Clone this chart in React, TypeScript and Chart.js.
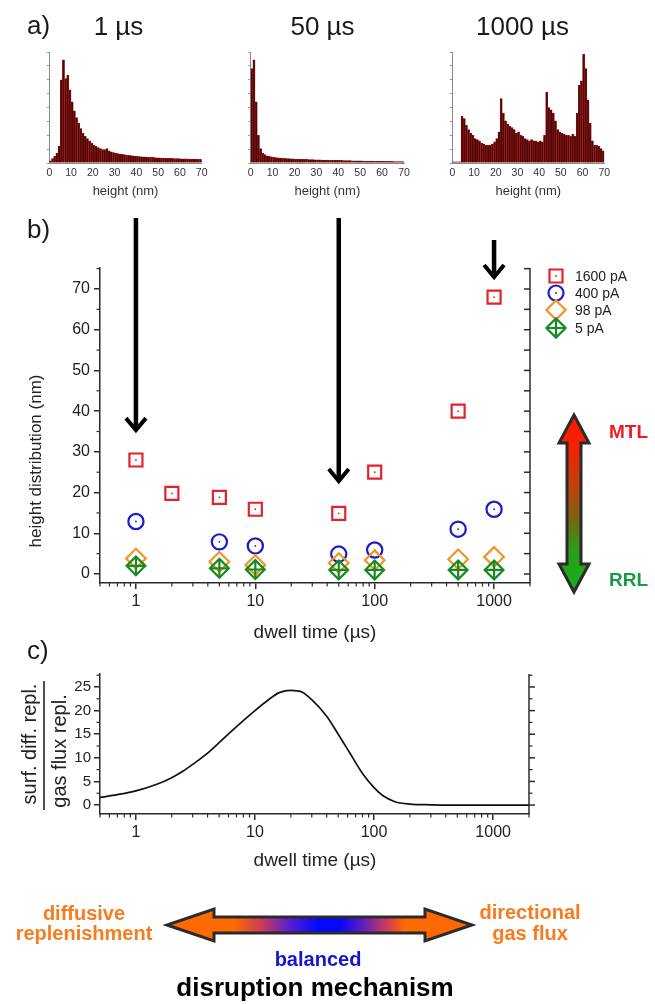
import React, { useEffect, useRef } from "react";
import { Chart, registerables } from "chart.js";

Chart.register(...registerables);

const FONT = 'Arial, "Liberation Sans", Helvetica, sans-serif';
Chart.defaults.font.family = FONT;
Chart.defaults.color = "#222";

// ---------------- data ----------------
const histTitles = ["1 µs", "50 µs", "1000 µs"];
const panelLabels = ["a)", "b)", "c)"];

// normalised counts per 1 nm bin (0-1, 1-2, ..., 69-70 nm)
const hist1us = [
  0.02, 0.04, 0.06, 0.09, 0.15, 0.75, 0.93, 0.76, 0.79, 0.66,
  0.55, 0.47, 0.41, 0.36, 0.31, 0.27, 0.24, 0.22, 0.2, 0.18,
  0.16, 0.15, 0.14, 0.13, 0.12, 0.12, 0.13, 0.11, 0.1, 0.095,
  0.09, 0.085, 0.08, 0.078, 0.075, 0.07, 0.068, 0.066, 0.064, 0.062,
  0.06, 0.058, 0.056, 0.055, 0.054, 0.052, 0.05, 0.05, 0.048, 0.047,
  0.046, 0.045, 0.044, 0.043, 0.042, 0.042, 0.041, 0.04, 0.04, 0.039,
  0.038, 0.038, 0.037, 0.037, 0.036, 0.036, 0.035, 0.035, 0.034, 0.034,
];
const hist50us = [
  0.85, 0.93, 0.55, 0.25, 0.13, 0.09, 0.075, 0.065, 0.06, 0.055,
  0.05, 0.048, 0.046, 0.044, 0.042, 0.041, 0.04, 0.039, 0.038, 0.037,
  0.036, 0.035, 0.034, 0.034, 0.033, 0.032, 0.031, 0.031, 0.03, 0.029,
  0.029, 0.028, 0.027, 0.027, 0.026, 0.026, 0.025, 0.025, 0.024, 0.024,
  0.023, 0.023, 0.022, 0.022, 0.021, 0.021, 0.02, 0.02, 0.02, 0.019,
  0.019, 0.018, 0.018, 0.018, 0.017, 0.017, 0.016, 0.016, 0.016, 0.015,
  0.015, 0.015, 0.014, 0.014, 0.014, 0.013, 0.013, 0.013, 0.012, 0.012,
];
const hist1000us = [
  0.01, 0.01, 0.01, 0.01, 0.42, 0.4, 0.34, 0.3, 0.27, 0.25,
  0.22, 0.21, 0.2, 0.18, 0.17, 0.16, 0.16, 0.16, 0.17, 0.19,
  0.22, 0.28, 0.58, 0.45, 0.38, 0.35, 0.33, 0.32, 0.3, 0.27,
  0.28, 0.25, 0.24, 0.22, 0.21, 0.2, 0.21, 0.2, 0.2, 0.19,
  0.2, 0.19, 0.25, 0.64, 0.5, 0.48, 0.45, 0.38, 0.3, 0.28,
  0.27, 0.26, 0.25, 0.25, 0.24, 0.26, 0.24, 0.45, 0.7, 0.74,
  0.98, 0.85, 0.57, 0.36, 0.2, 0.16, 0.16, 0.15, 0.13, 0.11,
];
const histSeries = [hist1us, hist50us, hist1000us];

const dwellTimesRed = [1, 2, 5, 10, 50, 100, 500, 1000];
const height1600pA = [28, 19.8, 18.8, 15.9, 14.9, 25, 40, 68];
const dwellTimes = [1, 5, 10, 50, 100, 500, 1000];
const height400pA = [12.9, 7.9, 6.9, 4.9, 5.9, 11, 15.9];
const height98pA = [3.8, 3.0, 2.2, 2.7, 3.4, 3.6, 4.2];
const height5pA = [2.0, 1.4, 1.1, 1.0, 1.0, 1.0, 1.0];
const seriesNames = ["1600 pA", "400 pA", "98 pA", "5 pA"];

const arrowDwell = [1, 50, 1000];
const arrowTipHeight = [34.6, 22.1, 72.2];

const ratioDwell = [0.5, 0.7, 1, 1.5, 2, 2.5, 3, 4, 5, 7, 10, 13, 16, 20, 25, 30, 40, 50, 63, 80, 100, 120, 150, 200, 300, 500, 1000, 2000];
const ratioValue = [1.6, 2.2, 3.0, 4.4, 5.8, 7.2, 8.6, 11.0, 13.2, 16.6, 20.0, 22.3, 23.8, 24.3, 23.9, 22.3, 18.8, 15.0, 10.9, 6.7, 3.7, 1.9, 0.7, 0.2, 0.05, 0, 0, 0];

const decadeTicks = [1, 10, 100, 1000];

// ---------------- styles ----------------
const AXIS = "#2b2b2b";
const RED = "#e3232b";
const BLUE = "#1c1cc4";
const ORANGE = "#f59324";
const GREEN = "#178a22";
const TXT_ORANGE = "#f77b1f";

const HIST_GEOM = [
  { left: 0, width: 220, areaL: 49.3, areaR: 201.7, titleX: 118.5 },
  { left: 220, width: 210, areaL: 30.7, areaR: 184, titleX: 102.5 },
  { left: 430, width: 225, areaL: 22.3, areaR: 174.3, titleX: 92.5 },
];

const pts = (xs: number[], ys: number[]) => xs.map((x, i) => ({ x, y: ys[i] }));

function txt(ctx: any, s: string, x: number, y: number, font: string, color: string, align: any = "center", base: any = "alphabetic", rot = 0) {
  ctx.save();
  ctx.translate(x, y);
  if (rot) ctx.rotate(rot);
  ctx.font = font;
  ctx.fillStyle = color;
  ctx.textAlign = align;
  ctx.textBaseline = base;
  ctx.fillText(s, 0, 0);
  ctx.restore();
}

function logMinor(ctx: any, s: any, y0: number, len: number) {
  for (let e = -1; e <= 3; e++) {
    for (let m = 2; m <= 9; m++) {
      const v = m * Math.pow(10, e);
      if (v < s.min * 0.999 || v > s.max * 1.001) continue;
      const x = s.getPixelForValue(v);
      ctx.beginPath();
      ctx.moveTo(x, y0);
      ctx.lineTo(x, y0 + len);
      ctx.stroke();
    }
  }
}

function linTicks(ctx: any, s: any, step: number, x0: number, len: number, skipEvery: number) {
  const start = Math.ceil(s.min / step) * step;
  for (let v = start; v <= s.max + 1e-9; v += step) {
    const k = Math.round(v / step);
    if (skipEvery && k % skipEvery === 0) continue;
    const y = s.getPixelForValue(v);
    ctx.beginPath();
    ctx.moveTo(x0, y);
    ctx.lineTo(x0 + len, y);
    ctx.stroke();
  }
}

function downArrow(ctx: any, x: number, yTop: number, yTip: number) {
  ctx.save();
  ctx.strokeStyle = "#000";
  ctx.lineWidth = 4.5;
  ctx.beginPath();
  ctx.moveTo(x, yTop);
  ctx.lineTo(x, yTip - 4);
  ctx.stroke();
  ctx.lineWidth = 4;
  ctx.lineJoin = "miter";
  ctx.beginPath();
  ctx.moveTo(x - 10, yTip - 15);
  ctx.lineTo(x, yTip - 3);
  ctx.lineTo(x + 10, yTip - 15);
  ctx.stroke();
  ctx.restore();
}

function dblArrowPath(ctx: any, c: number, a0: number, a1: number, headHalf: number, headLen: number, shaftHalf: number, vertical: boolean) {
  const P = (along: number, across: number) => (vertical ? [c + across, along] : [along, c + across]);
  const list = [
    P(a0, 0), P(a0 + headLen, headHalf), P(a0 + headLen, shaftHalf), P(a1 - headLen, shaftHalf), P(a1 - headLen, headHalf),
    P(a1, 0), P(a1 - headLen, -headHalf), P(a1 - headLen, -shaftHalf), P(a0 + headLen, -shaftHalf), P(a0 + headLen, -headHalf),
  ];
  ctx.beginPath();
  list.forEach((p, i) => (i ? ctx.lineTo(p[0], p[1]) : ctx.moveTo(p[0], p[1])));
  ctx.closePath();
}

function marker(ctx: any, kind: string, x: number, y: number, color: string) {
  ctx.save();
  ctx.strokeStyle = color;
  ctx.fillStyle = color;
  ctx.lineWidth = 2.2;
  ctx.beginPath();
  if (kind === "rect") ctx.rect(x - 6.5, y - 6.5, 13, 13);
  else if (kind === "circle") ctx.arc(x, y, 7.5, 0, Math.PI * 2);
  else {
    const r = 9.6;
    ctx.moveTo(x - r, y);
    ctx.lineTo(x, y - r);
    ctx.lineTo(x + r, y);
    ctx.lineTo(x, y + r);
    ctx.closePath();
    if (kind === "diamondCross") {
      ctx.moveTo(x - r, y);
      ctx.lineTo(x + r, y);
      ctx.moveTo(x, y - r);
      ctx.lineTo(x, y + r);
    }
  }
  ctx.stroke();
  if (kind === "rect" || kind === "circle") {
    ctx.beginPath();
    ctx.arc(x, y, 0.9, 0, Math.PI * 2);
    ctx.fill();
  }
  ctx.restore();
}

// ---------------- chart configs ----------------
function histConfig(i: number) {
  const g = HIST_GEOM[i];
  const values = histSeries[i];
  const centres = values.map((_, k) => k + 0.5);
  return {
    type: "bar",
    data: {
      datasets: [
        {
          data: pts(centres, values),
          backgroundColor: "#520606",
          borderColor: "#a82222",
          borderWidth: 0.5,
          barPercentage: 1,
          categoryPercentage: 1,
        },
      ],
    },
    options: {
      animation: false,
      responsive: false,
      devicePixelRatio: 1,
      layout: { padding: { left: g.areaL, right: g.width - g.areaR, top: 52, bottom: 0 } },
      plugins: { legend: { display: false }, tooltip: { enabled: false } },
      scales: {
        x: {
          type: "linear",
          min: 0,
          max: 70,
          offset: false,
          ticks: { stepSize: 10, padding: 4, font: { size: 10.5 }, color: "#333", autoSkip: false, maxRotation: 0 },
          grid: { display: false, drawTicks: false, offset: false },
          border: { display: true, color: "#8a8a8a", width: 1 },
          afterFit: (s: any) => { s.height = 37; },
        },
        y: {
          min: 0,
          max: 1,
          ticks: { display: false, stepSize: 0.125 },
          grid: { drawOnChartArea: false, drawTicks: true, tickLength: 2.5, color: "#999" },
          border: { display: true, color: "#8a8a8a", width: 1 },
          afterFit: (s: any) => { s.width = 0; },
        },
      },
    },
    plugins: [
      {
        id: "histText",
        afterDraw(chart: any) {
          const { ctx, chartArea: a } = chart;
          txt(ctx, histTitles[i], g.titleX, 35, `26px ${FONT}`, "#1a1a1a");
          txt(ctx, "height (nm)", (a.left + a.right) / 2, 195, `13px ${FONT}`, "#333");
          if (i === 0) txt(ctx, panelLabels[0], 27, 34, `26px ${FONT}`, "#1a1a1a", "left");
        },
      },
    ],
  };
}

function axisScale(extra: any) {
  return {
    grid: { drawOnChartArea: false, color: AXIS, lineWidth: 1.5, tickLength: 6 },
    border: { color: AXIS, width: 1.5 },
    ...extra,
  };
}

function panelBConfig() {
  const pt = (style: string, r: number, color: string, order: number, data: any, fill = false) => ({
    data,
    showLine: false,
    pointStyle: style,
    pointRadius: r,
    pointHoverRadius: r,
    pointBorderColor: color,
    pointBackgroundColor: fill ? color : "rgba(0,0,0,0)",
    pointBorderWidth: fill ? 0 : 2.2,
    order,
  });
  return {
    type: "scatter",
    data: {
      datasets: [
        pt("cross", 9.4, GREEN, 0, pts(dwellTimes, height5pA)),
        pt("rectRot", 9.4, GREEN, 1, pts(dwellTimes, height5pA)),
        pt("rectRot", 9.8, ORANGE, 2, pts(dwellTimes, height98pA)),
        pt("circle", 0.9, BLUE, 3, pts(dwellTimes, height400pA), true),
        pt("circle", 7.6, BLUE, 4, pts(dwellTimes, height400pA)),
        pt("circle", 0.9, RED, 5, pts(dwellTimesRed, height1600pA), true),
        pt("rect", 9.2, RED, 6, pts(dwellTimesRed, height1600pA)),
      ],
    },
    options: {
      animation: false,
      responsive: false,
      devicePixelRatio: 1,
      layout: { padding: { left: 40, right: 125, top: 78, bottom: 17 } },
      plugins: { legend: { display: false }, tooltip: { enabled: false } },
      scales: {
        x: axisScale({
          type: "logarithmic",
          min: 0.5,
          max: 2000,
          afterBuildTicks: (s: any) => { s.ticks = decadeTicks.map((v) => ({ value: v })); },
          ticks: { callback: (v: any) => String(v), font: { size: 16 }, color: "#222", padding: 3, autoSkip: false, maxRotation: 0 },
          afterFit: (s: any) => { s.height = 50; },
        }),
        y: axisScale({
          min: -2.21,
          max: 75.16,
          ticks: { stepSize: 10, includeBounds: false, font: { size: 16 }, color: "#222", padding: 4 },
          afterFit: (s: any) => { s.width = 60; },
        }),
      },
    },
    plugins: [
      {
        id: "panelB",
        afterDraw(chart: any) {
          const { ctx, chartArea: a, scales } = chart;
          const xs = scales.x;
          const ys = scales.y;
          ctx.save();
          ctx.strokeStyle = AXIS;
          ctx.lineWidth = 1.2;
          logMinor(ctx, xs, a.bottom, 3.5);
          linTicks(ctx, ys, 5, a.left, -3.5, 2);
          // right axis with inward ticks
          ctx.lineWidth = 1.5;
          ctx.beginPath();
          ctx.moveTo(a.right, a.top);
          ctx.lineTo(a.right, a.bottom);
          ctx.stroke();
          linTicks(ctx, ys, 5, a.right, -6, 0);
          ctx.restore();

          // arrows pointing to the histogram dwell times
          const tops = [28, 28, 50];
          arrowDwell.forEach((d, k) => {
            downArrow(ctx, xs.getPixelForValue(d), tops[k], ys.getPixelForValue(arrowTipHeight[k]));
          });

          // legend
          const kinds = ["rect", "circle", "diamond", "diamondCross"];
          const cols = [RED, BLUE, ORANGE, GREEN];
          const ly = [86, 103, 120, 138];
          seriesNames.forEach((n, k) => {
            marker(ctx, kinds[k], 556, ly[k], cols[k]);
            txt(ctx, n, 575, ly[k] + 1, `14px ${FONT}`, "#222", "left", "middle");
          });

          // MTL / RRL double arrow
          const top = 225;
          const bot = 402;
          const grad = ctx.createLinearGradient(0, top, 0, bot);
          grad.addColorStop(0, "#ff1a00");
          grad.addColorStop(0.18, "#f52205");
          grad.addColorStop(0.4, "#c0400a");
          grad.addColorStop(0.58, "#7a6212");
          grad.addColorStop(0.75, "#2f9a1c");
          grad.addColorStop(1, "#12b41a");
          ctx.save();
          dblArrowPath(ctx, 574, top, bot, 15, 28, 7, true);
          ctx.fillStyle = grad;
          ctx.fill();
          ctx.strokeStyle = "#2b2b2b";
          ctx.lineWidth = 3;
          ctx.lineJoin = "miter";
          ctx.stroke();
          ctx.restore();
          txt(ctx, "MTL", 609, 243, `bold 19px ${FONT}`, "#ec1c24", "left", "middle");
          txt(ctx, "RRL", 609, 391, `bold 19px ${FONT}`, "#1b9a44", "left", "middle");

          // labels
          txt(ctx, panelLabels[1], 27, 48, `26px ${FONT}`, "#1a1a1a", "left");
          txt(ctx, "height distribution (nm)", 36, 271, `17px ${FONT}`, "#222", "center", "middle", -Math.PI / 2);
          txt(ctx, "dwell time (µs)", 315, 448, `19px ${FONT}`, "#222");
        },
      },
    ],
  };
}

function panelCConfig() {
  return {
    type: "line",
    data: {
      datasets: [
        {
          data: pts(ratioDwell, ratioValue),
          borderColor: "#111",
          borderWidth: 1.7,
          pointRadius: 0,
          fill: false,
          cubicInterpolationMode: "monotone",
        },
      ],
    },
    options: {
      animation: false,
      responsive: false,
      devicePixelRatio: 1,
      layout: { padding: { left: 40, right: 126, top: 44, bottom: 140 } },
      plugins: { legend: { display: false }, tooltip: { enabled: false } },
      scales: {
        x: axisScale({
          type: "logarithmic",
          min: 0.5,
          max: 2000,
          afterBuildTicks: (s: any) => { s.ticks = decadeTicks.map((v) => ({ value: v })); },
          ticks: { callback: (v: any) => String(v), font: { size: 16 }, color: "#222", padding: 3, autoSkip: false, maxRotation: 0 },
          afterFit: (s: any) => { s.height = 50; },
        }),
        y: axisScale({
          min: -1.9,
          max: 27.75,
          ticks: { stepSize: 5, includeBounds: false, font: { size: 15 }, color: "#222", padding: 3 },
          afterFit: (s: any) => { s.width = 60; },
        }),
      },
    },
    plugins: [
      {
        id: "panelC",
        afterDraw(chart: any) {
          const { ctx, chartArea: a, scales } = chart;
          const xs = scales.x;
          const ys = scales.y;
          ctx.save();
          ctx.strokeStyle = AXIS;
          ctx.lineWidth = 1.2;
          logMinor(ctx, xs, a.bottom, 3.5);
          linTicks(ctx, ys, 2.5, a.left, -3.5, 2);
          ctx.lineWidth = 1.5;
          ctx.beginPath();
          ctx.moveTo(a.right, a.top);
          ctx.lineTo(a.right, a.bottom);
          ctx.stroke();
          linTicks(ctx, ys, 5, a.right, 6, 0);
          ctx.lineWidth = 1.2;
          linTicks(ctx, ys, 2.5, a.right, 3.5, 2);
          ctx.restore();

          // labels
          txt(ctx, panelLabels[2], 27, 29, `26px ${FONT}`, "#1a1a1a", "left");
          txt(ctx, "surf. diff. repl.", 30, 114, `20px ${FONT}`, "#222", "center", "middle", -Math.PI / 2);
          txt(ctx, "gas flux repl.", 60, 121, `20px ${FONT}`, "#222", "center", "middle", -Math.PI / 2);
          ctx.save();
          ctx.strokeStyle = "#222";
          ctx.lineWidth = 1.6;
          ctx.beginPath();
          ctx.moveTo(44, 51);
          ctx.lineTo(44, 180);
          ctx.stroke();
          ctx.restore();
          txt(ctx, "dwell time (µs)", 315, 236, `19px ${FONT}`, "#222");

          // disruption mechanism arrow
          const x0 = 167;
          const x1 = 472;
          const cy = 295;
          const grad = ctx.createLinearGradient(x0, 0, x1, 0);
          grad.addColorStop(0, "#ff6a00");
          grad.addColorStop(0.22, "#ff6a00");
          grad.addColorStop(0.31, "#cc3c55");
          grad.addColorStop(0.4, "#5a1ed0");
          grad.addColorStop(0.5, "#0008ff");
          grad.addColorStop(0.57, "#0a08f8");
          grad.addColorStop(0.65, "#6a22b8");
          grad.addColorStop(0.73, "#d8424a");
          grad.addColorStop(0.78, "#ff6a00");
          grad.addColorStop(1, "#ff6a00");
          ctx.save();
          dblArrowPath(ctx, cy, x0, x1, 16, 47, 8, false);
          ctx.fillStyle = grad;
          ctx.fill();
          ctx.strokeStyle = "#2b2b2b";
          ctx.lineWidth = 3;
          ctx.lineJoin = "miter";
          ctx.stroke();
          ctx.restore();

          const bf = `bold 20px ${FONT}`;
          txt(ctx, "diffusive", 84, 290, bf, TXT_ORANGE);
          txt(ctx, "replenishment", 84, 310, bf, TXT_ORANGE);
          txt(ctx, "directional", 530, 289, bf, TXT_ORANGE);
          txt(ctx, "gas flux", 530, 310, bf, TXT_ORANGE);
          txt(ctx, "balanced", 318, 336, bf, "#1414d2");
          txt(ctx, "disruption mechanism", 315, 366, `bold 26px ${FONT}`, "#000");
        },
      },
    ],
  };
}

// ---------------- components ----------------
function ChartBox({ left, top, width, height, make }: { left: number; top: number; width: number; height: number; make: () => any }) {
  const ref = useRef<HTMLCanvasElement>(null);
  useEffect(() => {
    const chart = new Chart(ref.current as HTMLCanvasElement, make());
    return () => chart.destroy();
  }, []);
  return (
    <canvas
      ref={ref}
      width={width}
      height={height}
      style={{ position: "absolute", left, top, width, height }}
    />
  );
}

export default function App() {
  return (
    <div style={{ position: "absolute", left: 0, top: 0, width: 655, height: 1004, background: "#fff", overflow: "hidden" }}>
      {HIST_GEOM.map((g, i) => (
        <ChartBox key={i} left={g.left} top={0} width={g.width} height={200} make={() => histConfig(i)} />
      ))}
      <ChartBox left={0} top={190} width={655} height={460} make={panelBConfig} />
      <ChartBox left={0} top={630} width={655} height={374} make={panelCConfig} />
    </div>
  );
}
